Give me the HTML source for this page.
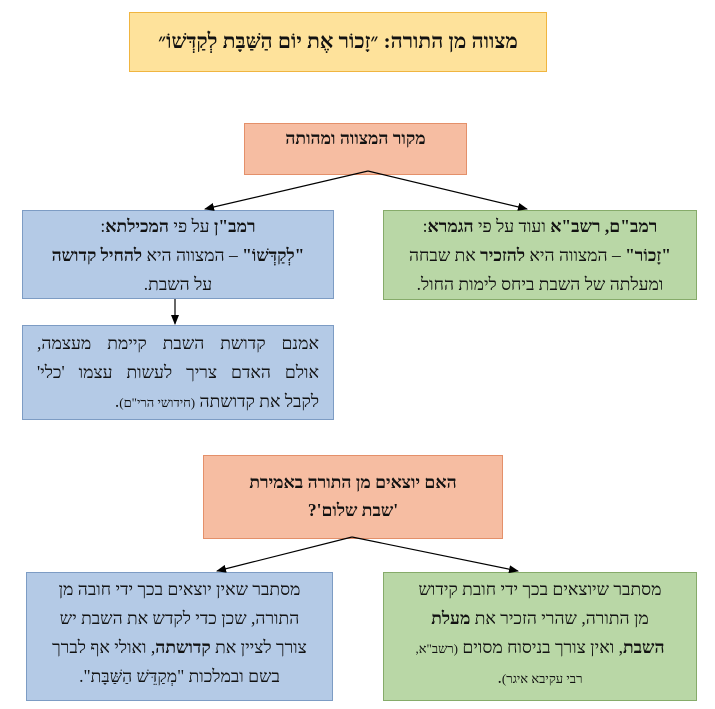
<!DOCTYPE html>
<html><head><meta charset="utf-8"><style>
body{margin:0;width:715px;height:709px;background:#fff;position:relative;font-family:"Liberation Serif","DejaVu Serif",serif;overflow:hidden}
.b{position:absolute;box-sizing:border-box;direction:rtl;text-align:center;color:#111;font-size:17.5px;line-height:30px;white-space:nowrap}
.y{background:#fee29b;border:1.5px solid #f0b540}
.s{background:#f6bda2;border:1.5px solid #e4906a}
.bl{background:#b4cae6;border:1.5px solid #7d9cc4}
.g{background:#b9d7a6;border:1.5px solid #86ab6a}
.j{text-align:justify;text-align-last:justify}
small{font-size:13px}
</style></head><body>
<div class="b y" style="left:129px;top:12px;width:418px;height:60px;font-size:21px;font-weight:bold;line-height:56px">מצווה מן התורה: ״זָכוֹר אֶת יוֹם הַשַּׁבָּת לְקַדְּשׁוֹ״</div>
<div class="b s" style="left:244px;top:123px;width:223px;height:52px;font-weight:bold;line-height:28px">מקור המצווה ומהותה</div>
<div class="b bl" style="left:22px;top:210px;width:312px;height:89px;line-height:29px;padding-top:1px">
<b>רמב"ן</b> על פי <b>המכילתא</b>:<br><b>"לְקַדְּשׁוֹ"</b> – המצווה היא <b>להחיל קדושה</b><br>על השבת.</div>
<div class="b g" style="left:383px;top:210px;width:314px;height:90px;line-height:29px;padding-top:1px">
<b>רמב"ם, רשב"א</b> ועוד על פי <b>הגמרא</b>:<br><b>"זָכוֹר"</b> – המצווה היא <b>להזכיר</b> את שבחה<br>ומעלתה של השבת ביחס לימות החול.</div>
<div class="b bl" style="left:22px;top:325px;width:312px;height:95px;line-height:29px;padding:3px 14px 0">
<div class="j">אמנם קדושת השבת קיימת מעצמה,</div>
<div class="j">אולם האדם צריך לעשות עצמו 'כלי'</div>
<div style="text-align:right">לקבל את קדושתה <small>(חידושי הרי"ם)</small>.</div></div>
<div class="b s" style="left:203px;top:455px;width:300px;height:84px;font-weight:bold;line-height:28px;padding-top:12px">האם יוצאים מן התורה באמירת<br>'שבת שלום'?</div>
<div class="b bl" style="left:26px;top:572px;width:307px;height:129px;line-height:29px;padding-top:2px">מסתבר שאין יוצאים בכך ידי חובה מן<br>התורה, שכן כדי לקדש את השבת יש<br>צורך לציין את <b>קדושתה</b>, ואולי אף לברך<br>בשם ובמלכות "מְקַדֵּשׁ הַשַּׁבָּת".</div>
<div class="b g" style="left:383px;top:572px;width:314px;height:129px;line-height:29px;padding-top:2px">מסתבר שיוצאים בכך ידי חובת קידוש<br>מן התורה, שהרי הזכיר את <b>מעלת<br>השבת</b>, ואין צורך בניסוח מסוים <small>(רשב"א,<br>רבי עקיבא איגר)</small>.</div>
<svg width="715" height="709" style="position:absolute;left:0;top:0">
<defs><marker id="a" markerWidth="10" markerHeight="8" refX="9" refY="4" orient="auto" markerUnits="userSpaceOnUse"><path d="M0,0L10,4L0,8z" fill="#000"/></marker></defs>
<g stroke="#000" stroke-width="1.2" fill="none">
<line x1="368" y1="171" x2="205" y2="209" marker-end="url(#a)"/>
<line x1="368" y1="171" x2="527" y2="209" marker-end="url(#a)"/>
<line x1="175" y1="299" x2="175" y2="324" marker-end="url(#a)"/>
<line x1="352" y1="537" x2="217" y2="571" marker-end="url(#a)"/>
<line x1="352" y1="537" x2="518" y2="571" marker-end="url(#a)"/>
</g></svg>
</body></html>
